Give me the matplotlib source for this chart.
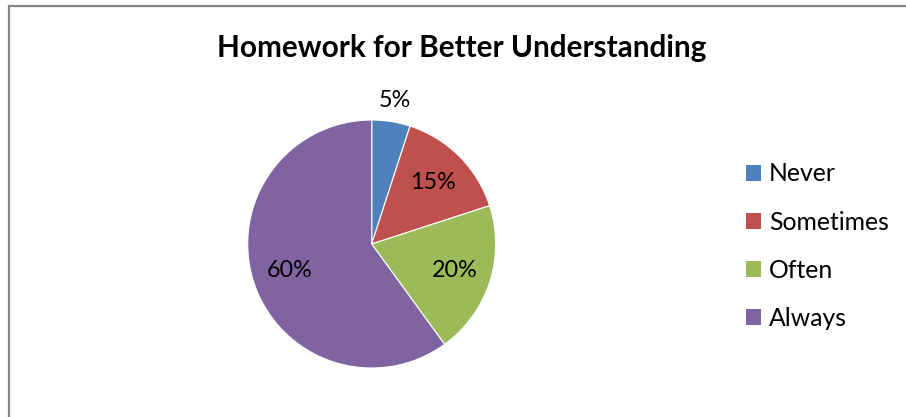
import matplotlib
matplotlib.use("Agg")
import matplotlib.pyplot as plt
from matplotlib.patches import Rectangle
import numpy as np

categories = ["Never", "Sometimes", "Often", "Always"]
values = [5, 15, 20, 60]
labels_pct = ["5%", "15%", "20%", "60%"]
colors = ["#4F81BD", "#C0504D", "#9BBB59", "#8064A2"]
title = "Homework for Better Understanding"

plt.rcParams['font.family'] = ['Lato', 'DejaVu Sans']

W, H = 906, 417
fig = plt.figure(figsize=(W / 100, H / 100), dpi=100)
fig.patch.set_facecolor("white")

# outer frame (chart area border, cut by image edges)
fig.patches.append(Rectangle((8.5 / W, -0.2), 2.0, 1.2 - 6.5 / H,
                             transform=fig.transFigure, fill=False,
                             edgecolor="#878787", linewidth=1.6))

cx, cy, r = 371.7, 244.0, 124.0
ax = fig.add_axes([(cx - r) / W, (H - cy - r) / H, 2 * r / W, 2 * r / H])
wedges, _ = ax.pie(values, colors=colors, startangle=90, counterclock=False,
                   radius=1.0, wedgeprops=dict(linewidth=0.8, edgecolor="white"))
ax.set_xlim(-1, 1)
ax.set_ylim(-1, 1)
ax.set_aspect("equal")
ax.axis("off")

total = sum(values)
cum = 0
for v, lab in zip(values, labels_pct):
    mid = (cum + v / 2) / total * 360.0
    cum += v
    ang = np.deg2rad(90 - mid)
    d = 1.17 if v / total < 0.1 else 0.70
    ax.text(d * np.cos(ang), d * np.sin(ang), lab, ha="center", va="center",
            fontsize=16.8, color="black", clip_on=False)

fig.text(462 / W, 1 - 48 / H, title, ha="center", va="center",
         fontsize=21.4, fontweight="bold")

leg = fig.legend(wedges, categories, loc="upper left",
                 bbox_to_anchor=(734 / W, 1 - 150 / H),
                 frameon=False, fontsize=17.8, handlelength=0.61,
                 handleheight=0.61, handletextpad=0.3, labelspacing=1.02,
                 borderpad=0)
for h in leg.legend_handles:
    h.set_edgecolor("none")

fig.savefig("out.png", dpi=100)
